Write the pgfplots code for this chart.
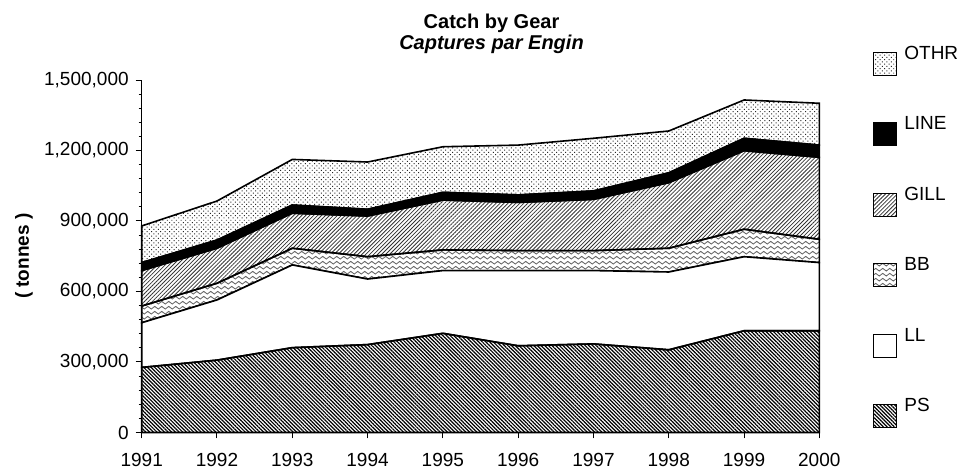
\documentclass[border=0pt]{standalone}
\usepackage{pgfplots}
\pgfplotsset{compat=1.18}
\usepackage{pgfplotstable}
\usepackage{fontspec}
\setmainfont{Liberation Sans}
\usetikzlibrary{patterns,patterns.meta}

% wavy fill for the BB band
\pgfdeclarepatternformonly{bbwaves}{\pgfqpoint{0pt}{0pt}}{\pgfqpoint{3.5pt}{2.4pt}}{\pgfqpoint{3.5pt}{2.4pt}}{
  \pgfsetlinewidth{0.45pt}
  \pgfpathmoveto{\pgfqpoint{0pt}{1.2pt}}
  \pgfpathcurveto{\pgfqpoint{0.6pt}{2.1pt}}{\pgfqpoint{1.15pt}{2.1pt}}{\pgfqpoint{1.75pt}{1.2pt}}
  \pgfpathcurveto{\pgfqpoint{2.35pt}{0.3pt}}{\pgfqpoint{2.9pt}{0.3pt}}{\pgfqpoint{3.5pt}{1.2pt}}
  \pgfusepath{stroke}
}

\pgfplotstableread{
year PS     LL     BB     GILL   LINE  OTHR
1991 277000 190000 71000  151000 34000 156000
1992 308000 256000 71000  149000 35000 166000
1993 361000 352000 71000  149000 35000 194000
1994 374000 279000 95000  173000 29000 201000
1995 422000 267000 88000  212000 33000 194000
1996 369000 320000 85000  205000 32000 212000
1997 377000 312000 85000  218000 36000 224000
1998 352000 331000 101000 279000 42000 178000
1999 433000 315000 117000 334000 53000 163000
2000 433000 290000 99000  349000 52000 178000
}\catch

\begin{document}
\begin{tikzpicture}[font=\fontsize{9.5}{11.5}\selectfont]
\begin{axis}[
    scale only axis,
    width=338.85pt, height=176.25pt,
    xmin=1991, xmax=2000, ymin=0, ymax=1500000,
    clip=false,
    stack plots=y,
    axis x line*=bottom, axis y line*=left,
    axis line style={line width=0.6pt},
    tick align=outside,
    major tick length=3pt, minor tick length=1.6pt,
    tick style={black, line width=0.5pt},
    xtick={1991,...,2000},
    ytick={0,300000,...,1500000},
    minor y tick num=4,
    scaled y ticks=false,
    /pgf/number format/assume math mode=true,
    xticklabel style={/pgf/number format/1000 sep={}, yshift=-4pt},
    yticklabel style={/pgf/number format/fixed, /pgf/number format/1000 sep={,}},
    title={\textbf{Catch by Gear}\\\textbf{\textit{Captures par Engin}}},
    every axis title/.style={at={(axis description cs:0.5162,1.1306)}, anchor=center,
        align=center, font=\fontsize{10}{10.85}\selectfont},
    ylabel={\textbf{( tonnes )}},
    ylabel style={at={(axis description cs:-0.1737,0.5)}, anchor=center},
    every axis plot/.append style={draw=black, line width=0.8pt},
    legend image code/.code={\draw[#1, line width=0.5pt] (0pt,-10.55pt) rectangle (11.5pt,0.95pt);},
    reverse legend,
    legend cell align=left,
    legend style={at={(axis description cs:1.0791,1.1084)}, anchor=north west,
        draw=none, fill=none, inner sep=0pt, row sep=18.4pt,
        /tikz/every odd column/.append style={column sep=1.5pt}},
]
\addplot[pattern={Lines[angle=-45,distance=1.3pt,line width=0.6pt]}] table[x=year,y=PS] {\catch} \closedcycle;
\addplot[fill=white] table[x=year,y=LL] {\catch} \closedcycle;
\addplot[pattern=bbwaves, pattern color=black!60] table[x=year,y=BB] {\catch} \closedcycle;
\addplot[pattern={Lines[angle=45,distance=1.4pt,line width=0.4pt]}, pattern color=black!80] table[x=year,y=GILL] {\catch} \closedcycle;
\addplot[fill=black] table[x=year,y=LINE] {\catch} \closedcycle;
\addplot[pattern={Dots[angle=45,distance=1.6pt,radius=0.35pt]}, pattern color=black!85] table[x=year,y=OTHR] {\catch} \closedcycle;
\legend{PS,LL,BB,GILL,LINE,OTHR}
\path (axis description cs:-0.2091,-0.1149) rectangle (axis description cs:1.2193,1.2270);
\end{axis}
\end{tikzpicture}
\end{document}
